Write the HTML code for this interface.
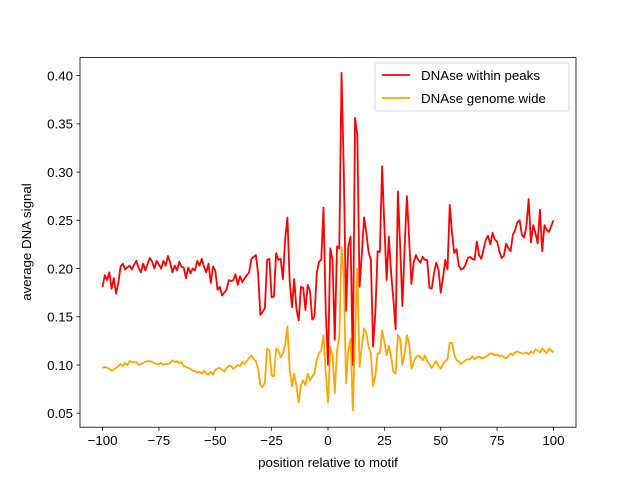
<!DOCTYPE html>
<html><head><meta charset="utf-8"><style>
body{margin:0;background:#fff}
svg{font-family:"Liberation Sans","DejaVu Sans",sans-serif}
</style></head><body>
<svg id="c" width="640" height="480" xmlns="http://www.w3.org/2000/svg">
<rect width="640" height="480" fill="#fff"/>
<g id="plot"></g>
<rect x="80" y="57.6" width="496" height="369.6" fill="none" stroke="#000" stroke-width="0.8"/>
<g id="ticks"></g>
<text x="328" y="467" font-size="13.3" text-anchor="middle">position relative to motif</text>
<text transform="translate(31,242) rotate(-90)" font-size="13.3" text-anchor="middle">average DNA signal</text>
<g>
<rect x="375" y="63" width="194" height="48" rx="2" fill="#fff" fill-opacity="0.8" stroke="#ccc" stroke-width="0.8"/>
<line x1="382" y1="75" x2="410" y2="75" stroke="red" stroke-width="1.8"/>
<text x="421" y="80" font-size="13.3">DNAse within peaks</text>
<line x1="382" y1="98" x2="410" y2="98" stroke="orange" stroke-width="1.8"/>
<text x="421" y="103" font-size="13.3">DNAse genome wide</text>
</g>
</svg>
<script>
const xTicks=[-100,-75,-50,-25,0,25,50,75,100];
const yTicks=[0.05,0.10,0.15,0.20,0.25,0.30,0.35,0.40];
const redValues=[
.181,.193,.188,.196,.179,.190,.174,.185,.202,.205,
.199,.201,.203,.199,.204,.208,.201,.196,.205,.198,
.205,.211,.207,.200,.208,.204,.200,.208,.203,.213,
.206,.196,.203,.198,.207,.202,.201,.190,.201,.195,
.200,.198,.208,.203,.210,.202,.196,.205,.185,.202,
.198,.178,.181,.172,.175,.178,.188,.187,.188,.194,
.183,.192,.186,.190,.193,.196,.210,.212,.214,.195,
.152,.155,.159,.209,.210,.170,.171,.216,.209,.210,
.189,.230,.253,.187,.160,.189,.158,.146,.181,.180,
.157,.183,.177,.147,.150,.195,.207,.209,.263,.156,
.100,.221,.209,.126,.223,.221,.403,.302,.156,.223,
.233,.100,.356,.339,.181,.215,.253,.237,.217,.209,
.119,.154,.218,.217,.306,.244,.188,.233,.195,.168,
.137,.280,.223,.161,.223,.275,.230,.184,.206,.214,
.209,.206,.212,.209,.209,.180,.179,.195,.206,.199,
.175,.190,.209,.199,.266,.237,.216,.220,.203,.199,
.200,.204,.211,.212,.210,.209,.228,.214,.210,.220,
.230,.234,.225,.237,.230,.228,.218,.211,.213,.226,
.221,.218,.235,.240,.248,.250,.235,.232,.244,.272,
.227,.245,.237,.226,.261,.218,.245,.240,.238,.244,.250];
const orangeValues=[
.097,.098,.097,.096,.094,.095,.097,.099,.101,.099,
.102,.100,.104,.103,.103,.103,.100,.101,.102,.103,
.104,.104,.103,.102,.101,.101,.102,.100,.101,.101,
.102,.105,.103,.104,.102,.103,.099,.098,.097,.096,
.094,.094,.092,.093,.091,.094,.091,.090,.093,.090,
.095,.096,.097,.095,.093,.097,.099,.099,.096,.098,
.100,.099,.103,.101,.104,.107,.110,.106,.104,.096,
.079,.077,.082,.117,.115,.089,.088,.117,.115,.108,
.112,.122,.140,.096,.078,.091,.078,.061,.079,.084,
.079,.091,.084,.088,.091,.105,.112,.115,.131,.091,
.061,.119,.110,.071,.115,.128,.222,.191,.081,.115,
.127,.053,.131,.200,.098,.119,.138,.133,.119,.112,
.078,.089,.112,.112,.136,.124,.110,.120,.108,.093,
.091,.131,.127,.100,.112,.131,.122,.096,.103,.108,
.110,.108,.105,.110,.104,.101,.097,.101,.104,.099,
.096,.101,.104,.106,.123,.123,.111,.105,.104,.101,
.103,.105,.106,.106,.109,.106,.108,.109,.107,.107,
.109,.110,.112,.112,.110,.111,.109,.110,.108,.107,
.109,.112,.110,.113,.114,.113,.112,.112,.113,.111,
.114,.112,.116,.115,.113,.117,.115,.112,.117,.115,.113];
const NS='http://www.w3.org/2000/svg';
const X0=80,X1=576,Y0=427.2,Y1=57.6,xmin=-110,xmax=110,ymin=0.0355,ymax=0.4187;
function sx(v){return X0+(v-xmin)/(xmax-xmin)*(X1-X0);}
function sy(v){return Y0-(v-ymin)/(ymax-ymin)*(Y0-Y1);}
const plot=document.getElementById('plot'),ticks=document.getElementById('ticks');
function line(vals,color,name){
  const p=document.createElementNS(NS,'polyline');
  p.setAttribute('points',vals.map((v,i)=>sx(-100+i).toFixed(2)+','+sy(v).toFixed(2)).join(' '));
  p.setAttribute('fill','none');p.setAttribute('stroke',color);p.setAttribute('stroke-width','1.8');
  p.setAttribute('stroke-linejoin','round');
  
  
  plot.appendChild(p);
}
line(redValues.slice(0,201),'red','series-dnase-within-peaks');
line(orangeValues.slice(0,201),'orange','series-dnase-genome-wide');
xTicks.forEach(t=>{
  const x=sx(t);
  const l=document.createElementNS(NS,'line');
  l.setAttribute('x1',x);l.setAttribute('x2',x);l.setAttribute('y1',Y0);l.setAttribute('y2',Y0+3.5);
  l.setAttribute('stroke','#000');l.setAttribute('stroke-width','0.8');
  
  
  ticks.appendChild(l);
  const tx=document.createElementNS(NS,'text');
  tx.setAttribute('x',x);tx.setAttribute('y',Y0+18);tx.setAttribute('font-size','13.3');tx.setAttribute('text-anchor','middle');
  tx.textContent=(t<0?'\u2212'+(-t):t);
  
  
  ticks.appendChild(tx);
});
yTicks.forEach(t=>{
  const y=sy(t);
  const l=document.createElementNS(NS,'line');
  l.setAttribute('x1',X0-3.5);l.setAttribute('x2',X0);l.setAttribute('y1',y);l.setAttribute('y2',y);
  l.setAttribute('stroke','#000');l.setAttribute('stroke-width','0.8');
  
  
  ticks.appendChild(l);
  const tx=document.createElementNS(NS,'text');
  tx.setAttribute('x',X0-7);tx.setAttribute('y',y+4.8);tx.setAttribute('font-size','13.3');tx.setAttribute('text-anchor','end');
  tx.textContent=t.toFixed(2);
  
  
  ticks.appendChild(tx);
});
</script>
</body></html>
